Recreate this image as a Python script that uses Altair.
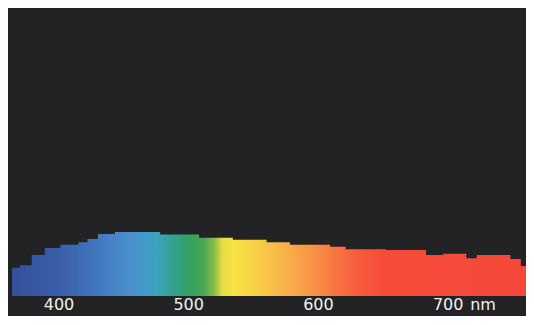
import altair as alt
import pandas as pd

# Spectral power distribution (relative, peak = 100), step profile
edges = [363.8, 370, 379, 389, 401, 415, 422, 430, 443, 478, 508, 534, 560, 578,
         609, 621, 652, 683, 696, 714, 722, 748, 756, 760]
power = [44, 48, 64, 75, 80, 84, 89, 97, 100, 96, 91, 88, 84, 80,
         77, 73, 72, 64, 66, 59, 64, 58, 47]

# Colour of the light at each wavelength
stop_wl = [364, 400, 430, 455, 475, 490, 500, 512, 520, 526, 535, 555, 578,
           595, 615, 632, 650, 760]
stop_col = ["#34519c", "#3a5ea8", "#4378bd", "#4a90cf", "#3aa2bf", "#34a288",
            "#33a063", "#4aa650", "#8cbc4c", "#e8dc44", "#f8e242", "#f8cc46",
            "#f8ad48", "#f89346", "#f87242", "#f85a3c", "#f74b3a", "#f4483a"]

tick_values = [400, 500, 600, 700]
tick_labels = ["400", "500", "600", "700"]
unit_label = "nm"

df = pd.DataFrame({"wl": edges, "p": power + [power[-1]]})
ticks = pd.DataFrame({"wl": tick_values, "label": tick_labels})
unit = pd.DataFrame({"wl": [tick_values[-1]], "label": [unit_label]})

lo, hi = edges[0], edges[-1]
stops = [alt.GradientStop(offset=min(1, max(0, (w - lo) / (hi - lo))), color=c)
         for w, c in zip(stop_wl, stop_col)]

xs = alt.Scale(domain=[360.7, 760], nice=False, zero=False)
ys = alt.Scale(domain=[0, 450], nice=False, zero=False)

area = alt.Chart(df).mark_area(
    interpolate="step-after",
    color=alt.Gradient(gradient="linear", stops=stops, x1=0, x2=1, y1=0, y2=0),
).encode(
    x=alt.X("wl:Q", scale=xs, axis=None),
    y=alt.Y("p:Q", scale=ys, axis=None),
)

text_props = dict(font="DejaVu Sans", fontSize=16, color="#f2f2f2", baseline="alphabetic")

labels = alt.Chart(ticks).mark_text(align="center", **text_props).encode(
    x=alt.X("wl:Q", scale=xs, axis=None),
    y=alt.value(302),
    text="label:N",
)

unit_text = alt.Chart(unit).mark_text(align="left", dx=22, **text_props).encode(
    x=alt.X("wl:Q", scale=xs, axis=None),
    y=alt.value(302),
    text="label:N",
)

chart = alt.layer(area, labels, unit_text).properties(
    width=518,
    height=288,
    autosize=alt.AutoSizeParams(type="none"),
    padding={"left": 0, "top": 0, "right": 0, "bottom": 20},
    background="#232325",
).configure_view(stroke=None)

chart.save("out.html", embed_options={"renderer": "svg", "actions": False})
